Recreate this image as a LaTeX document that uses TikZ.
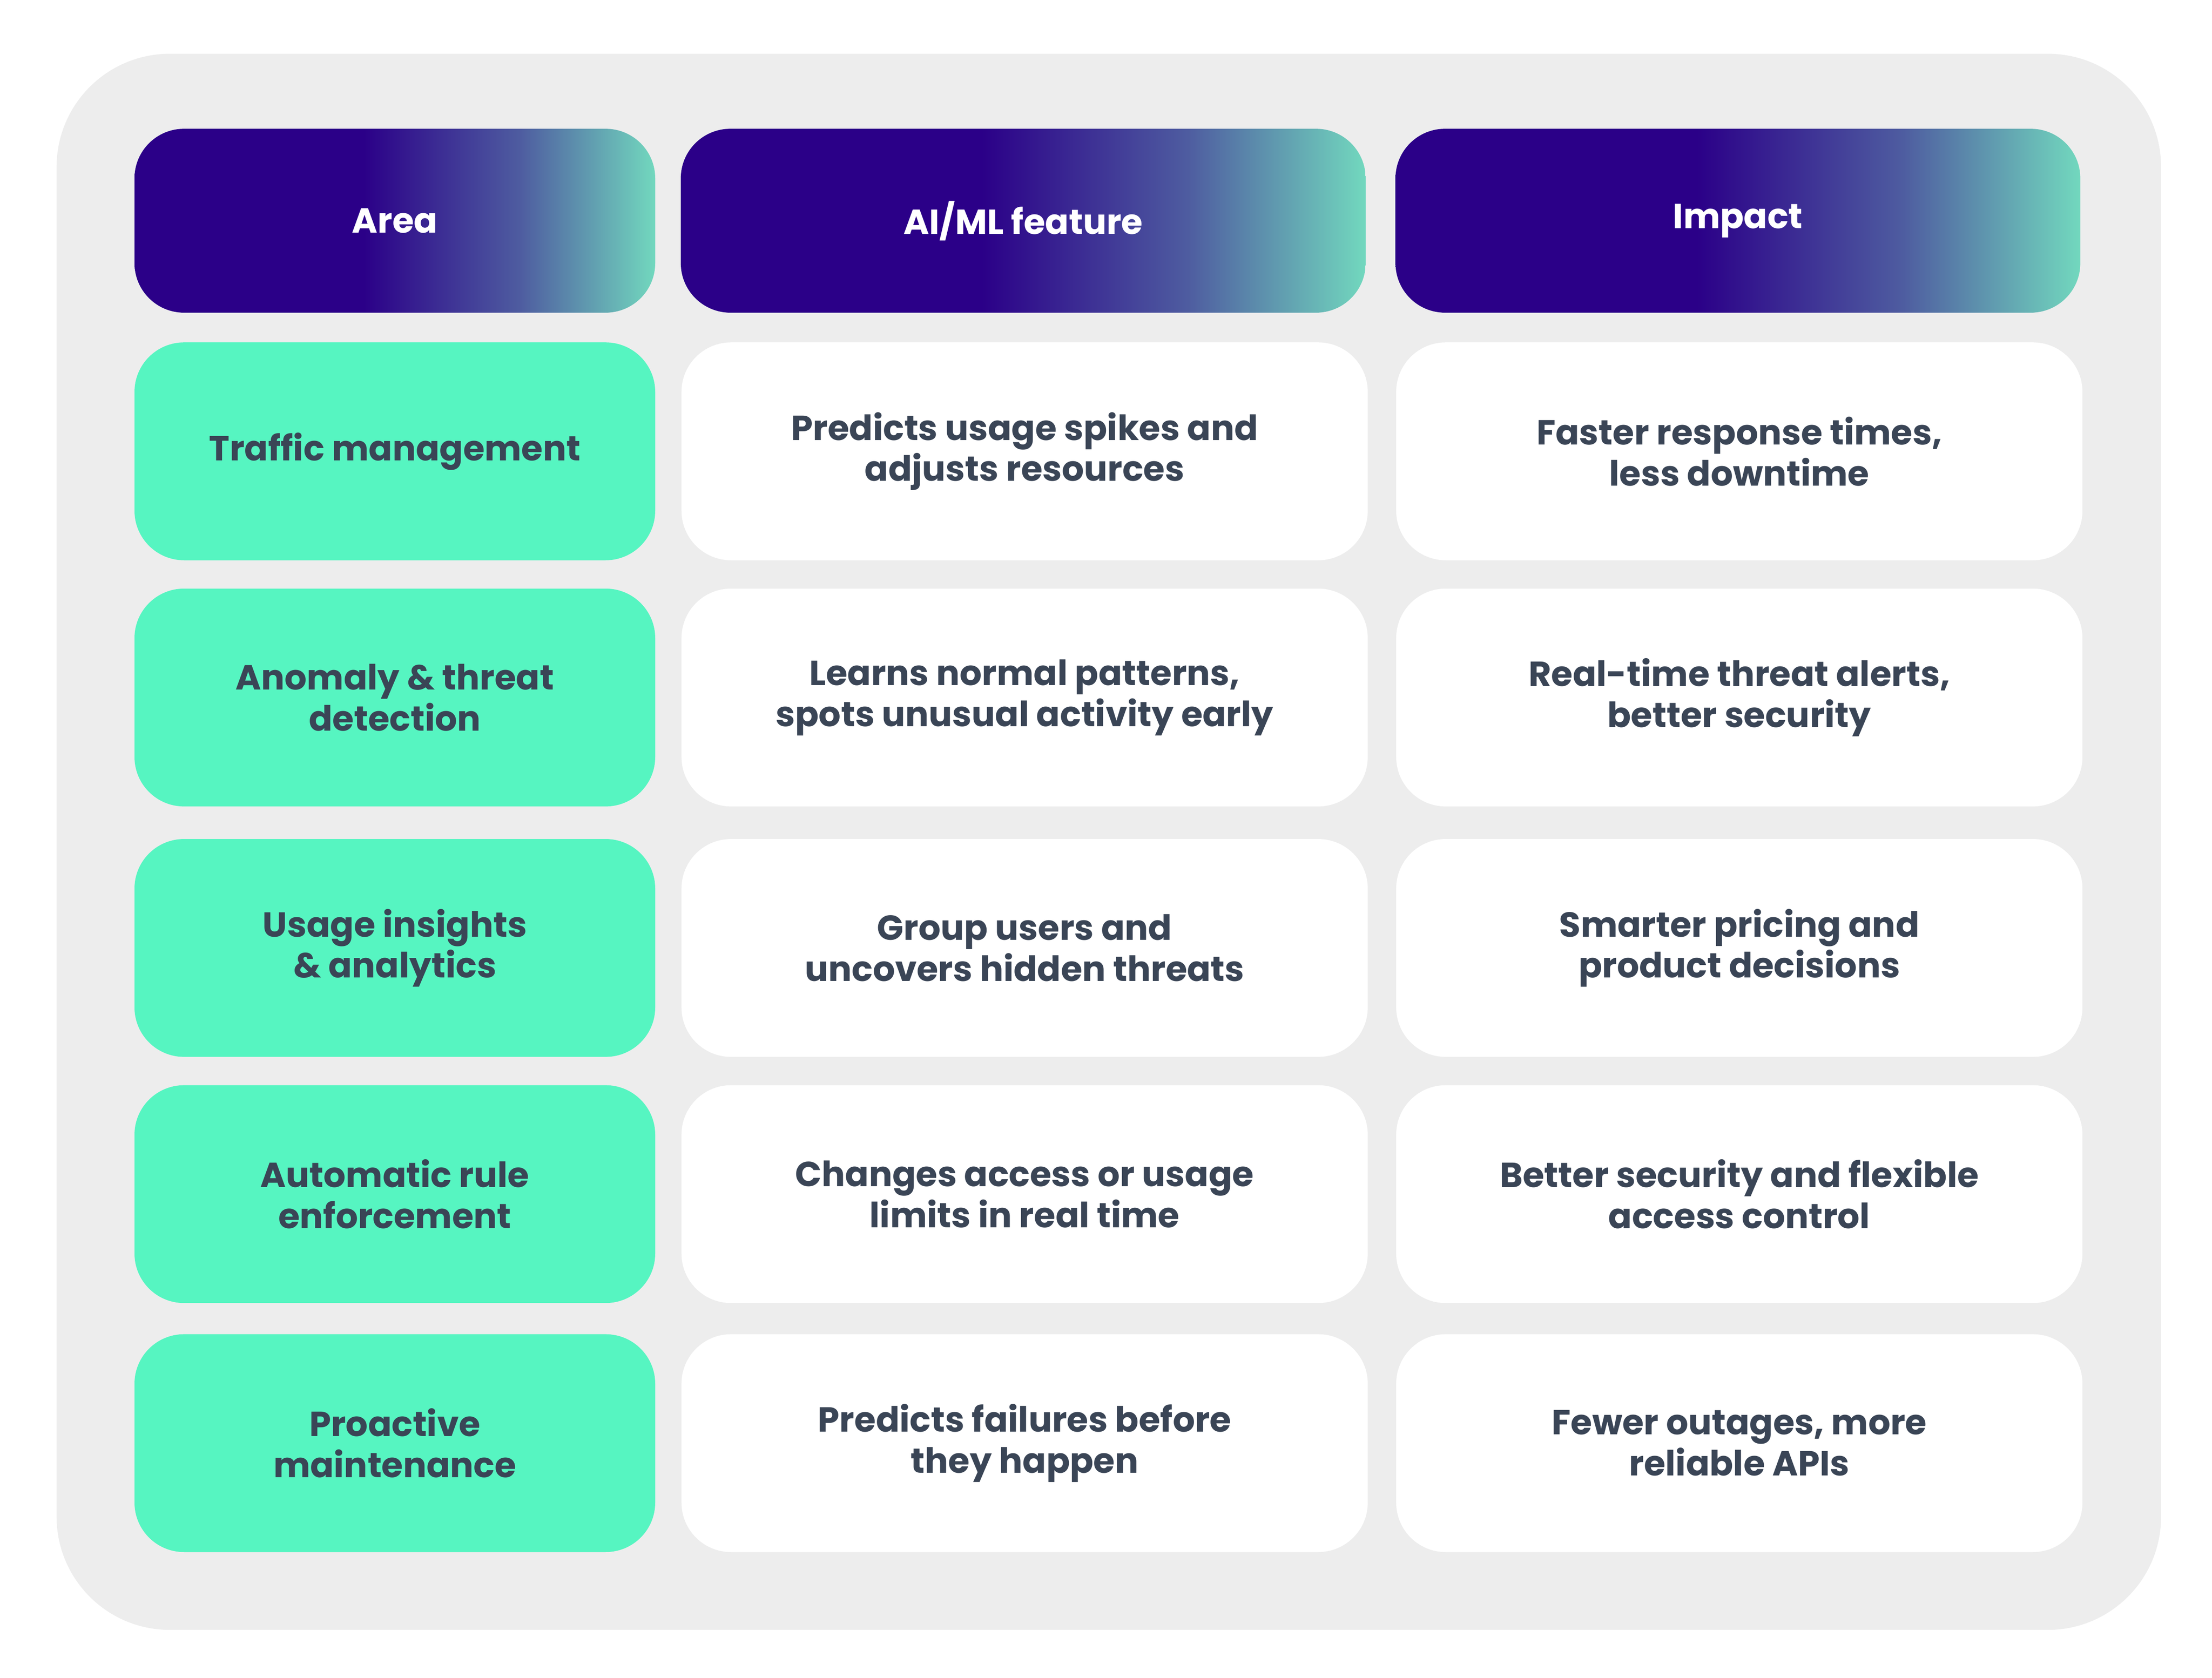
\documentclass[tikz,border=0pt]{standalone}
\usepackage{fontspec}
\setmainfont{Poppins}
\usepackage{tikz}
\definecolor{panel}{HTML}{EDEDED}
\definecolor{hdark}{HTML}{2B0088}
\definecolor{hmid}{HTML}{4E5CA0}
\definecolor{hteal}{HTML}{72D8BE}
\definecolor{mint}{HTML}{56F5C1}
\definecolor{ink}{HTML}{3A4556}
\pgfdeclarehorizontalshading{hdr}{100bp}{color(0bp)=(hdark); color(25bp)=(hdark);
  color(47bp)=(hdark); color(62bp)=(hmid); color(75bp)=(hteal); color(100bp)=(hteal)}
\tikzset{
  cell/.style={rectangle, rounded corners=0.7cm, align=center, inner sep=0pt,
    minimum height=3.08cm, font=\fontsize{14}{16.5}\selectfont\bfseries, text=ink},
  head/.style={cell, shading=hdr, minimum height=2.6cm, text=white},
  area/.style={cell, fill=mint, minimum width=7.36cm},
  note/.style={cell, fill=white, minimum width=9.7cm}
}
\begin{document}
\begin{tikzpicture}[x=0.02cm,y=-0.02cm]
  \useasboundingbox (0,0) rectangle (1563,1186);
  \fill[panel, rounded corners=1.6cm] (40,38) rectangle (1527,1152);

  \node[head, minimum width=7.36cm] (hArea) at (279,156) {Area};
  \node[head, minimum width=9.68cm] (hFeature) at (723,156) {AI/ML feature};
  \node[head, minimum width=9.68cm] (hImpact) at (1228,156) {Impact};

  \node[area] (a1) at (279,319) {Traffic management};
  \node[note] (f1) at (724,319) {Predicts usage spikes and\\adjusts resources};
  \node[note] (i1) at (1229,319) {Faster response times,\\less downtime};

  \node[area] (a2) at (279,493) {Anomaly \& threat\\detection};
  \node[note] (f2) at (724,493) {Learns normal patterns,\\spots unusual activity early};
  \node[note] (i2) at (1229,493) {Real-time threat alerts,\\better security};

  \node[area] (a3) at (279,670) {Usage insights\\\& analytics};
  \node[note] (f3) at (724,670) {Group users and\\uncovers hidden threats};
  \node[note] (i3) at (1229,670) {Smarter pricing and\\product decisions};

  \node[area] (a4) at (279,844) {Automatic rule\\enforcement};
  \node[note] (f4) at (724,844) {Changes access or usage\\limits in real time};
  \node[note] (i4) at (1229,844) {Better security and flexible\\access control};

  \node[area] (a5) at (279,1020) {Proactive\\maintenance};
  \node[note] (f5) at (724,1020) {Predicts failures before\\they happen};
  \node[note] (i5) at (1229,1020) {Fewer outages, more\\reliable APIs};
\end{tikzpicture}
\end{document}
